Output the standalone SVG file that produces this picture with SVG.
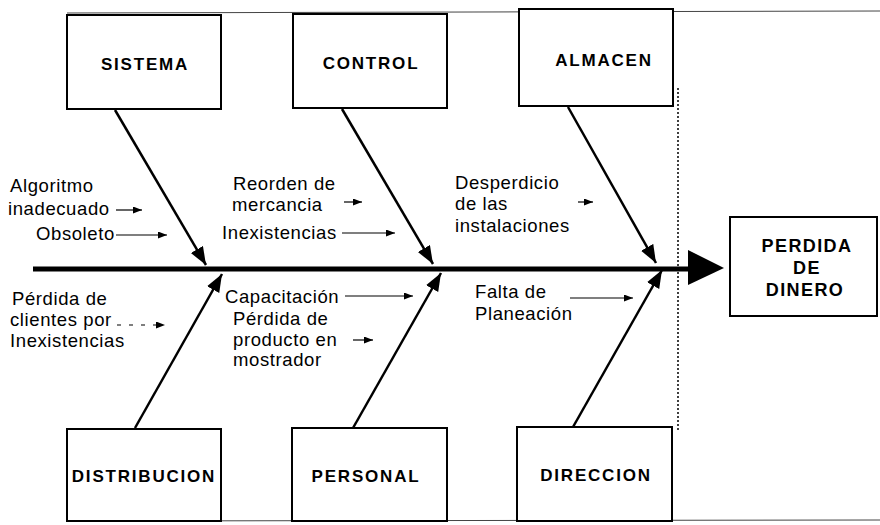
<svg xmlns="http://www.w3.org/2000/svg" width="880" height="525" viewBox="0 0 880 525">
<style>
.box{fill:#fff;stroke:#000;stroke-width:2}
.title{font-family:"Liberation Sans",Arial,sans-serif;font-weight:bold;font-size:17px;letter-spacing:1.8px;text-anchor:middle;fill:#000}
.big{font-size:18px;letter-spacing:1.4px}
.lbl{font-family:"Liberation Sans",Arial,sans-serif;font-size:18.5px;letter-spacing:0.6px;fill:#000}
.bone{stroke:#000;stroke-width:2.5;fill:none;marker-end:url(#big)}
.small{stroke:#000;stroke-width:1.2;fill:none;marker-end:url(#sm)}
.frame{stroke:#444;stroke-width:1;fill:none}
</style>
<defs>
<marker id="big" markerUnits="userSpaceOnUse" markerWidth="20" markerHeight="16" refX="18" refY="7" orient="auto">
<path d="M0,0 L18,7 L0,14 z" fill="#000"/>
</marker>
<marker id="sm" markerUnits="userSpaceOnUse" markerWidth="10" markerHeight="8" refX="9" refY="3.5" orient="auto">
<path d="M0,0 L9,3.5 L0,7 z" fill="#000"/>
</marker>
</defs>
<rect width="880" height="525" fill="#fff"/>
<g id="frame">
<line class="frame" x1="67" y1="13" x2="880" y2="11"/>
<line class="frame" x1="67" y1="521" x2="880" y2="520"/>
<line x1="678" y1="88" x2="678" y2="432" stroke="#000" stroke-width="1.5" stroke-dasharray="2,2"/>
</g>
<g id="connectors">
<line x1="33" y1="269" x2="692" y2="269" stroke="#000" stroke-width="5"/>
<polygon points="688,250 724,268 688,285" fill="#000"/>
<line class="bone" x1="115" y1="110" x2="206" y2="265"/>
<line class="bone" x1="342" y1="109" x2="433" y2="264"/>
<line class="bone" x1="568" y1="107" x2="656" y2="263"/>
<line class="bone" x1="135" y1="428" x2="222" y2="274"/>
<line class="bone" x1="353" y1="428" x2="441" y2="273"/>
<line class="bone" x1="573" y1="427" x2="662" y2="270"/>
<line class="small" x1="116" y1="210" x2="142" y2="210"/>
<line class="small" x1="116" y1="235" x2="167" y2="235"/>
<line class="small" x1="344" y1="202" x2="362" y2="202"/>
<line class="small" x1="342" y1="233" x2="395" y2="233"/>
<line class="small" x1="578" y1="202" x2="593" y2="202"/>
<line class="small" x1="117" y1="325" x2="165" y2="325" stroke-dasharray="4,8"/>
<line class="small" x1="345" y1="296" x2="413" y2="296"/>
<line class="small" x1="353" y1="340" x2="373" y2="340"/>
<line class="small" x1="570" y1="298" x2="633" y2="298"/>
</g>
<g id="sistema"><rect class="box" x="67" y="15" width="154" height="94"/><text class="title" x="145" y="70">SISTEMA</text></g>
<g id="control"><rect class="box" x="293" y="14" width="154" height="94"/><text class="title" x="371" y="69">CONTROL</text></g>
<g id="almacen"><rect class="box" x="519" y="9" width="154" height="97"/><text class="title" x="604" y="66">ALMACEN</text></g>
<g id="perdida"><rect class="box" x="730" y="217" width="147" height="99"/>
<text class="title big" x="807" y="252">PERDIDA</text>
<text class="title big" x="807" y="274">DE</text>
<text class="title big" x="805" y="296">DINERO</text></g>
<g id="distribucion"><rect class="box" x="67" y="429" width="154" height="92"/><text class="title" x="144" y="482">DISTRIBUCION</text></g>
<g id="personal"><rect class="box" x="292" y="428" width="155" height="93"/><text class="title" x="366" y="482">PERSONAL</text></g>
<g id="direccion"><rect class="box" x="517" y="427" width="155" height="94"/><text class="title" x="596" y="481">DIRECCION</text></g>
<g id="labels">
<text class="lbl" x="10" y="192">Algoritmo</text>
<text class="lbl" x="8" y="215">inadecuado</text>
<text class="lbl" x="36" y="240">Obsoleto</text>
<text class="lbl" x="233" y="190">Reorden de</text>
<text class="lbl" x="232" y="211">mercancia</text>
<text class="lbl" x="222" y="239">Inexistencias</text>
<text class="lbl" x="455" y="189">Desperdicio</text>
<text class="lbl" x="455" y="210">de las</text>
<text class="lbl" x="455" y="232">instalaciones</text>
<text class="lbl" x="12" y="305">Pérdida de</text>
<text class="lbl" x="10" y="326">clientes por</text>
<text class="lbl" x="10" y="347">Inexistencias</text>
<text class="lbl" x="225" y="303">Capacitación</text>
<text class="lbl" x="233" y="325">Pérdida de</text>
<text class="lbl" x="233" y="346">producto en</text>
<text class="lbl" x="233" y="366">mostrador</text>
<text class="lbl" x="475" y="298">Falta de</text>
<text class="lbl" x="475" y="320">Planeación</text>
</g>
</svg>
